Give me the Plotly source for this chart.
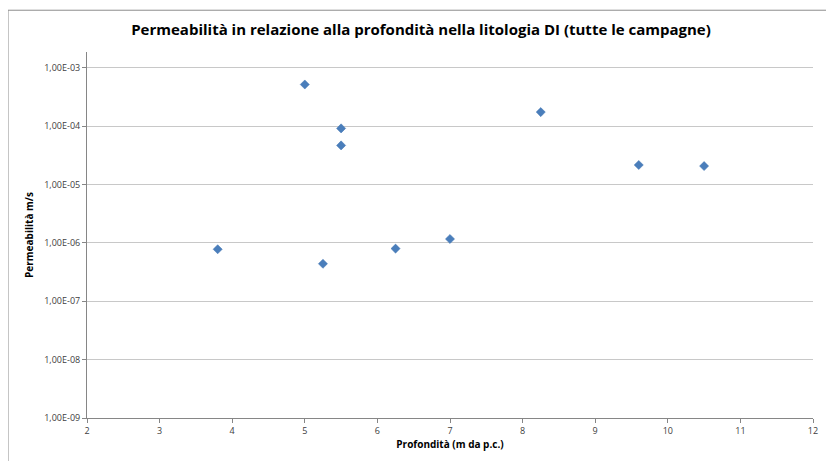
import plotly.graph_objects as go

depth = [3.8, 5.0, 5.25, 5.5, 5.5, 6.25, 7.0, 8.25, 9.6, 10.5]
permeability = [7.8e-7, 5.2e-4, 4.4e-7, 9.2e-5, 4.7e-5, 8.0e-7, 1.17e-6, 1.75e-4, 2.17e-5, 2.08e-5]

y_tickvals = [1e-9, 1e-8, 1e-7, 1e-6, 1e-5, 1e-4, 1e-3]
y_ticktext = ["1,00E-09", "1,00E-08", "1,00E-07", "1,00E-06", "1,00E-05", "1,00E-04", "1,00E-03"]
x_tickvals = [2, 3, 4, 5, 6, 7, 8, 9, 10, 11, 12]

title = "Permeabilità in relazione alla profondità nella litologia DI (tutte le campagne)"
x_title = "Profondità (m da p.c.)"
y_title = "Permeabilità m/s"

fig = go.Figure()
fig.add_trace(go.Scatter(
    x=depth, y=permeability, mode="markers",
    marker=dict(symbol="diamond", size=7, color="#4a7ebb",
                line=dict(width=0.5, color="#3f72b0")),
    showlegend=False,
))

FONT = "Open Sans, Liberation Sans, sans-serif"
axis_font = dict(family=FONT, size=9, color="#404040")

W, H = 826, 453
fig.update_layout(
    width=W, height=H,
    margin=dict(l=79, r=21, t=44, b=41),
    paper_bgcolor="white", plot_bgcolor="white",
    title=dict(text="<b>" + title + "</b>", x=0.5, xanchor="center",
               y=1 - 22 / H, yanchor="middle",
               font=dict(family=FONT, size=15, color="black")),
    xaxis=dict(
        range=[2, 12], tickvals=x_tickvals, ticktext=[str(v) for v in x_tickvals],
        showgrid=False, zeroline=False,
        showline=True, linecolor="#868686", linewidth=1,
        ticks="outside", ticklen=4, tickcolor="#868686",
        tickfont=axis_font,
        title=dict(text="<b>" + x_title + "</b>", standoff=5,
                   font=dict(family=FONT, size=10, color="black")),
    ),
    yaxis=dict(
        type="log", range=[-9, -2.727],
        tickvals=y_tickvals, ticktext=y_ticktext,
        showgrid=True, gridcolor="#c8c8c8", gridwidth=1,
        zeroline=False,
        showline=True, linecolor="#868686", linewidth=1,
        ticks="outside", ticklen=4, tickcolor="#868686",
        tickfont=axis_font,
        title=dict(text="<b>" + y_title + "</b>", standoff=8,
                   font=dict(family=FONT, size=10, color="black")),
    ),
    shapes=[dict(
        type="rect", xref="paper", yref="paper",
        x0=-79 / 726, x1=(825 - 79) / 726,
        y0=-0.3, y1=1 + (44 - 2) / 368,
        line=dict(color="#8c8c8c", width=1), fillcolor="rgba(0,0,0,0)", layer="below",
    )],
)

fig.write_html("out.html")
